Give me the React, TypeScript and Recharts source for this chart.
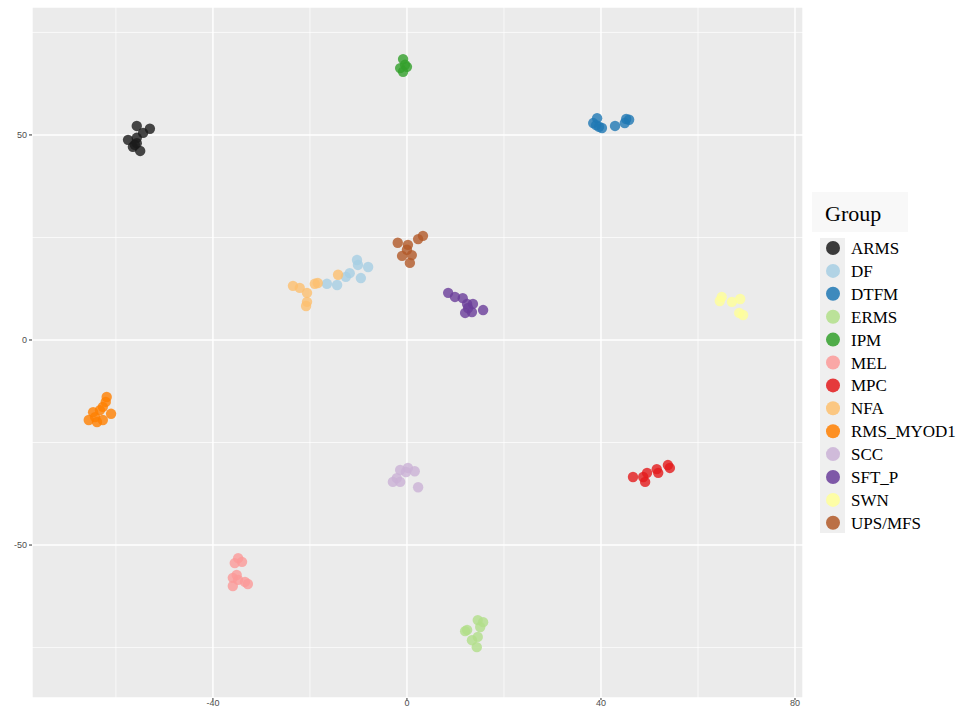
import { CartesianGrid, Legend, ReferenceLine, Scatter, ScatterChart, XAxis, YAxis } from "recharts"

// t-SNE coordinates, one array per group
const ARMS = [[-55.7, 52.2], [-53.0, 51.5], [-54.4, 50.5], [-57.5, 48.8], [-55.7, 49.3], [-56.1, 47.6], [-56.5, 47.1], [-55.0, 46.1], [-55.7, 48.0]]
const DF = [[-10.3, 19.5], [-10.1, 18.3], [-8.0, 17.8], [-11.8, 16.3], [-12.6, 15.4], [-9.5, 15.1], [-14.4, 13.4], [-16.5, 13.7]]
const DTFM = [[39.2, 54.1], [38.4, 52.9], [39.6, 52.0], [40.2, 51.7], [39.0, 52.4], [42.9, 52.2], [45.2, 53.9], [45.8, 53.7], [44.9, 52.9]]
const ERMS = [[14.6, -68.3], [15.7, -68.8], [15.1, -70.0], [12.4, -70.7], [12.0, -71.0], [14.6, -72.4], [13.4, -73.2], [14.4, -74.9]]
const IPM = [[-0.8, 68.5], [-0.4, 67.1], [-1.4, 66.3], [0, 66.6], [-0.8, 65.4]]
const MEL = [[-34.8, -53.2], [-34.0, -54.1], [-35.5, -54.4], [-35.1, -57.3], [-35.9, -58.0], [-35.9, -60.0], [-33.4, -59.0], [-32.8, -59.5], [-34.8, -58.5]]
const MPC = [[46.6, -33.4], [48.7, -33.4], [49.5, -32.4], [49.1, -34.6], [51.5, -31.5], [51.8, -32.4], [53.8, -30.5], [54.2, -31.2]]
const NFA = [[-23.5, 13.2], [-22.1, 12.7], [-20.6, 11.5], [-20.6, 9.3], [-20.8, 8.3], [-18.4, 13.9], [-19.0, 13.7], [-14.2, 15.9]]
const RMS_MYOD1 = [[-61.9, -13.9], [-62.1, -15.1], [-62.7, -16.3], [-63.3, -17.1], [-64.7, -17.6], [-65.6, -19.5], [-63.9, -20.0], [-62.7, -19.5], [-61.0, -18.0], [-64.3, -18.8]]
const SCC = [[-1.4, -31.7], [0.2, -31.2], [1.6, -32.0], [-2.1, -33.7], [-2.9, -34.6], [-1.4, -34.6], [2.3, -35.9], [-0.2, -32.2]]
const SFT_P = [[8.5, 11.5], [9.9, 10.5], [11.5, 10.2], [12.4, 8.8], [13.6, 8.8], [12.0, 6.6], [13.4, 6.8], [15.7, 7.3], [12.6, 7.8]]
const SWN = [[64.9, 10.5], [64.5, 9.5], [67.0, 9.3], [68.7, 10.0], [68.5, 6.6], [69.3, 6.1]]
const UPS_MFS = [[-1.9, 23.7], [0.2, 23.2], [0, 22.0], [2.3, 24.6], [3.3, 25.4], [-1.0, 20.5], [1.0, 20.7], [0.6, 18.8]]

const GROUPS = [
  { name: "ARMS", color: "#1a1a1a", points: ARMS },
  { name: "DF", color: "#a6cee3", points: DF },
  { name: "DTFM", color: "#1f78b4", points: DTFM },
  { name: "ERMS", color: "#b2df8a", points: ERMS },
  { name: "IPM", color: "#33a02c", points: IPM },
  { name: "MEL", color: "#fb9a99", points: MEL },
  { name: "MPC", color: "#e31a1c", points: MPC },
  { name: "NFA", color: "#fdbf6f", points: NFA },
  { name: "RMS_MYOD1", color: "#ff7f00", points: RMS_MYOD1 },
  { name: "SCC", color: "#cab2d6", points: SCC },
  { name: "SFT_P", color: "#6a3d9a", points: SFT_P },
  { name: "SWN", color: "#ffff99", points: SWN },
  { name: "UPS/MFS", color: "#b15928", points: UPS_MFS },
]

const X_TICKS = [-40, 0, 40, 80]
const X_MINOR = [-60, -20, 20, 60]
const Y_TICKS = [-50, 0, 50]
const Y_MINOR = [-75, -25, 25, 75]

const tickStyle = { fontSize: 9, fill: "#4d4d4d", fontFamily: "Liberation Sans, sans-serif" }

function GroupLegend() {
  return (
    <svg width={150} height={345} style={{ fontFamily: "Liberation Serif, serif" }}>
      <rect x={0} y={0} width={96} height={40} fill="#f8f8f8" />
      <text x={13} y={29} fontSize={22} fill="#000">Group</text>
      <rect x={8} y={46} width={25} height={295} fill="#efefef" />
      {GROUPS.map((g, i) => (
        <g key={g.name}>
          <circle cx={21} cy={56 + i * 22.9} r={7} fill={g.color} fillOpacity={0.85} />
          <text x={39} y={62 + i * 22.9} fontSize={17} fill="#000">{g.name}</text>
        </g>
      ))}
    </svg>
  )
}

export default function App() {
  return (
    <div style={{ width: 976, height: 709, background: "#fff" }}>
      <style>{"body{margin:0}"}</style>
      {/* the vertical legend takes 150px off the right side */}
      <ScatterChart width={976} height={709} margin={{ top: 7, right: 23, bottom: 0, left: 0 }}>
        <CartesianGrid stroke="#ffffff" strokeWidth={1.4} fill="#ebebeb" fillOpacity={1} />
        {X_MINOR.map((v) => (
          <ReferenceLine key={`xm${v}`} x={v} stroke="#ffffff" strokeWidth={0.7} />
        ))}
        {Y_MINOR.map((v) => (
          <ReferenceLine key={`ym${v}`} y={v} stroke="#ffffff" strokeWidth={0.7} />
        ))}
        <XAxis
          type="number"
          dataKey="x"
          domain={[-77.3, 81.65]}
          ticks={X_TICKS}
          allowDataOverflow
          axisLine={false}
          tickLine={{ stroke: "#333" }}
          tickSize={2}
          height={11}
          tick={{ ...tickStyle, dy: -2 }}
        />
        <YAxis
          type="number"
          dataKey="y"
          domain={[-87.3, 81.2]}
          ticks={Y_TICKS}
          allowDataOverflow
          axisLine={false}
          tickLine={{ stroke: "#333" }}
          tickSize={3}
          width={32}
          tick={tickStyle}
        />
        {GROUPS.map((g) => (
          <Scatter
            key={g.name}
            name={g.name}
            data={g.points.map(([x, y]) => ({ x, y }))}
            fill={g.color}
            isAnimationActive={false}
            shape={(p: any) => <circle cx={p.cx} cy={p.cy} r={5.2} fill={g.color} fillOpacity={0.8} />}
          />
        ))}
        <Legend
          layout="vertical"
          verticalAlign="top"
          align="right"
          wrapperStyle={{ left: 812, top: 192, width: 150 }}
          content={() => <GroupLegend />}
        />
      </ScatterChart>
    </div>
  )
}
